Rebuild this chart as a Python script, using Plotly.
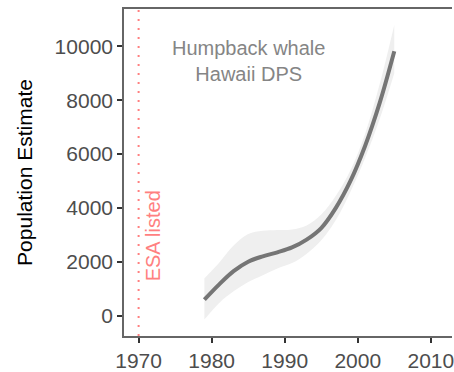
import plotly.graph_objects as go

years = [1979, 1981, 1983, 1985, 1987, 1989, 1991, 1993, 1995, 1997, 1999, 2001, 2003, 2005]
fit = [590, 1150, 1650, 2000, 2200, 2350, 2530, 2820, 3250, 4000, 5000, 6300, 7900, 9820]
lower = [-150, 460, 900, 1250, 1500, 1750, 1950, 2300, 2800, 3550, 4600, 5850, 7300, 9000]
upper = [1380, 1950, 2600, 3030, 3150, 3180, 3200, 3350, 3750, 4450, 5400, 6750, 8600, 10800]
listed_year = 1970
x_ticks = [1970, 1980, 1990, 2000, 2010]
y_ticks = [0, 2000, 4000, 6000, 8000, 10000]
y_labels = ["0", "2000", "4000", "6000", "8000", "10000"]

FONT = "Liberation Sans, Arial, sans-serif"

fig = go.Figure()
fig.add_trace(go.Scatter(x=years, y=lower, mode="lines", line=dict(width=0, shape="spline"),
                         showlegend=False, hoverinfo="skip"))
fig.add_trace(go.Scatter(x=years, y=upper, mode="lines", line=dict(width=0, shape="spline"),
                         fill="tonexty", fillcolor="#efefef", showlegend=False, hoverinfo="skip"))
fig.add_trace(go.Scatter(x=years, y=fit, mode="lines", line=dict(width=4, color="#757575", shape="spline"),
                         showlegend=False))

fig.add_shape(type="line", x0=listed_year, x1=listed_year, y0=0, y1=1, yref="paper", xref="x",
              line=dict(color="#ff8080", width=2, dash="2px,7px"))

fig.add_annotation(x=1985, y=9460, text="Humpback whale<br>Hawaii DPS", showarrow=False,
                   font=dict(family=FONT, size=20, color="#858585"), align="center")
fig.add_annotation(x=1972.0, y=2950, text="ESA listed", showarrow=False, textangle=-90,
                   font=dict(family=FONT, size=20, color="#ff8080"))

axis_common = dict(showgrid=False, zeroline=False, showline=True, linecolor="#666666", linewidth=1.6,
                   ticks="outside", ticklen=5, tickwidth=1.6, tickcolor="#333333",
                   ticklabeloverflow="allow",
                   tickfont=dict(family=FONT, size=21, color="#4d4d4d"))

fig.update_layout(
    width=454, height=372,
    margin=dict(l=124, r=0, t=9, b=32),
    paper_bgcolor="white", plot_bgcolor="white",
    xaxis=dict(range=[1968, 2012.9], tickvals=x_ticks, mirror=True, **axis_common),
    yaxis=dict(range=[-760, 11390], tickvals=y_ticks, ticktext=y_labels,
               title=dict(text="Population Estimate", font=dict(family=FONT, size=21, color="black"), standoff=16),
               **axis_common),
)

fig.write_html("out.html", config={"displayModeBar": False},
               post_script="document.body.style.margin='0';document.body.style.overflow='hidden';")
